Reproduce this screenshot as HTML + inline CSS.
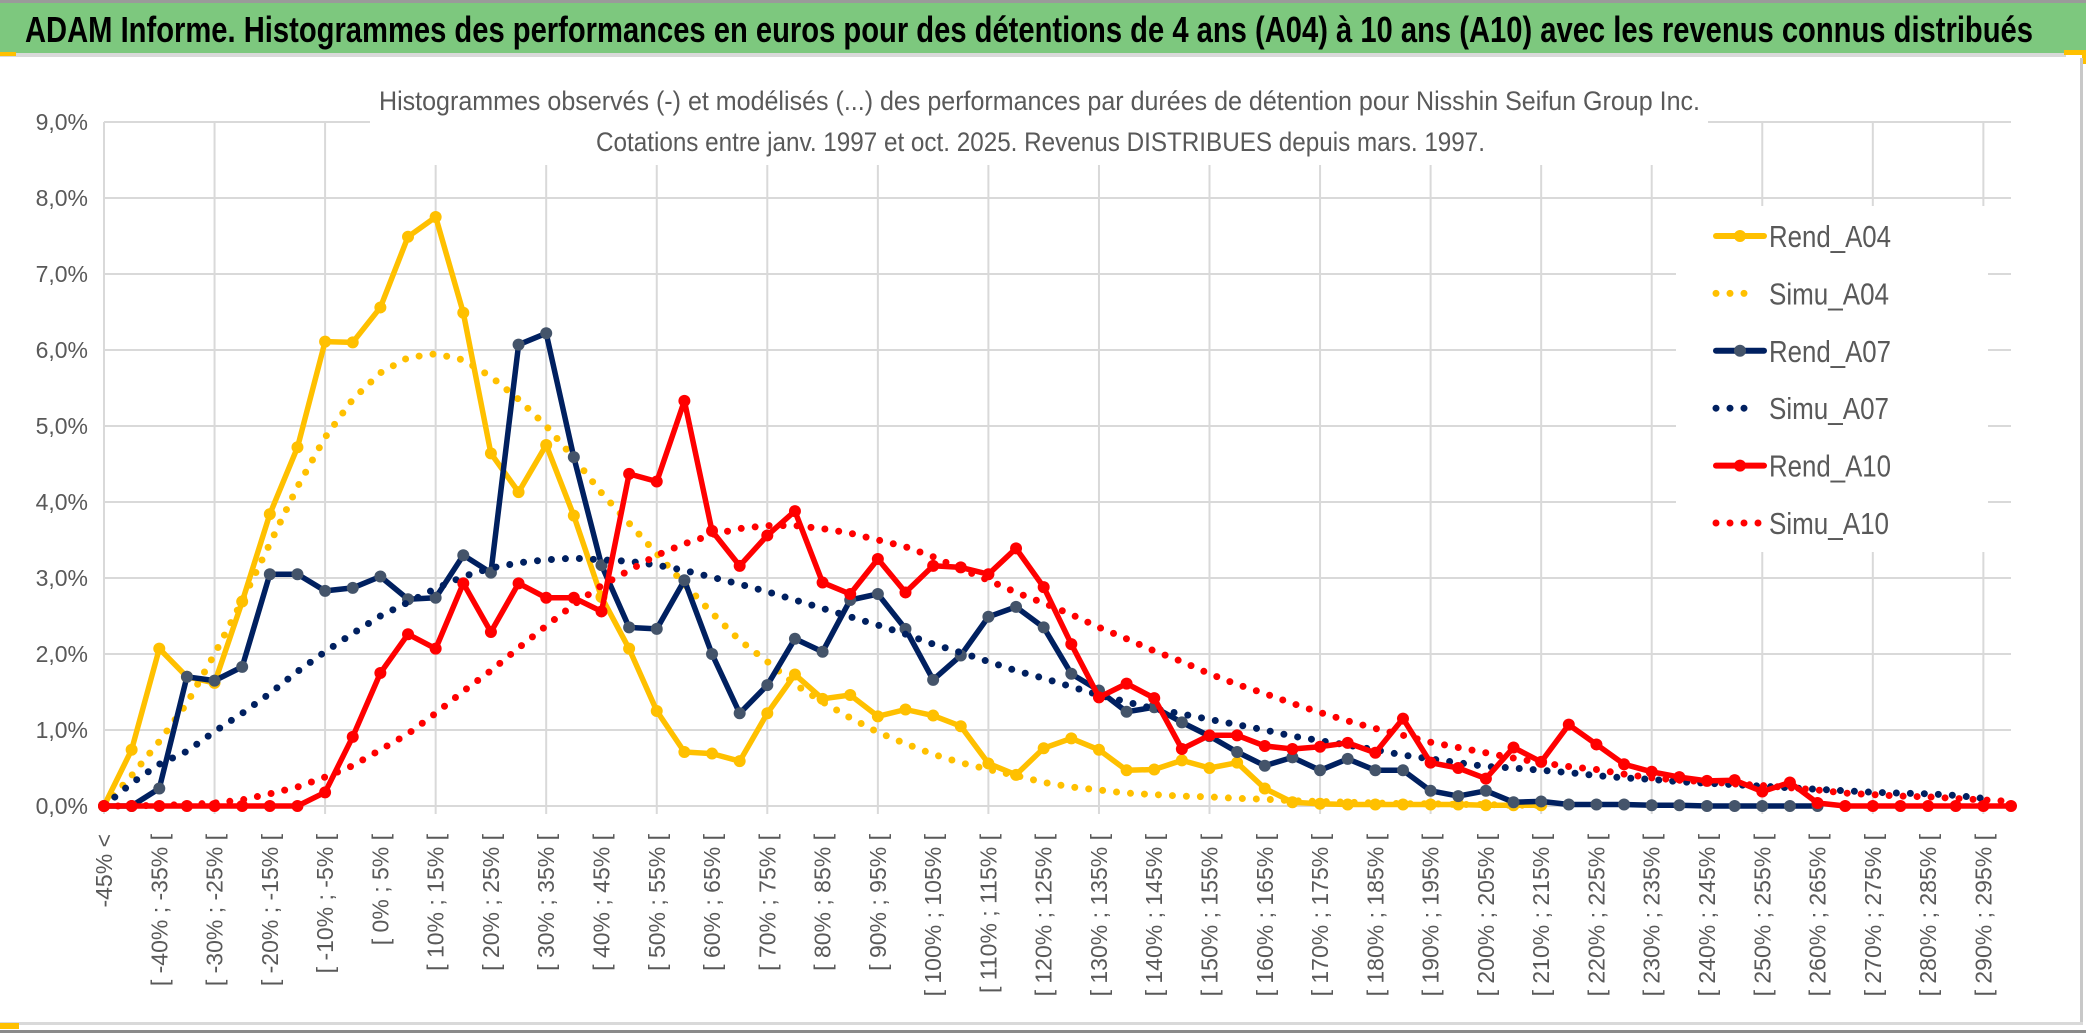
<!DOCTYPE html>
<html>
<head>
<meta charset="utf-8">
<style>
html,body{margin:0;padding:0;background:#fff;}
body{width:2086px;height:1033px;overflow:hidden;}
svg{display:block;}
text{font-family:"Liberation Sans Narrow","Liberation Sans",sans-serif;}
</style>
</head>
<body>
<svg id="chart" width="2086" height="1033" viewBox="0 0 2086 1033" xmlns="http://www.w3.org/2000/svg">
  <rect x="0" y="0" width="2086" height="1033" fill="#ffffff"/>
  <rect x="0" y="0" width="2086" height="3" fill="#9a9a9a"/>
  <rect x="0" y="3" width="2086" height="50" fill="#7dc87e"/>
  <rect x="0" y="53" width="2066" height="4" fill="#d9d9d9"/>
  <rect x="0" y="52" width="16" height="4" fill="#ffc000"/>
  <rect x="2064" y="50" width="22" height="5" fill="#ffc000"/>
  <rect x="2082" y="50" width="4" height="14" fill="#ffc000"/>
  <rect x="2080" y="58" width="3" height="966" fill="#c8c8c8"/>
  <rect x="0" y="1022" width="2083" height="3" fill="#d9d9d9"/>
  <rect x="0" y="1030" width="2086" height="3" fill="#8a8a8a"/>
  <rect x="0" y="1023" width="19" height="6" fill="#ffc000"/>
  <text x="25" y="42" font-size="36" font-weight="bold" fill="#000" textLength="2008" lengthAdjust="spacingAndGlyphs">ADAM Informe. Histogrammes des performances en euros pour des détentions de 4 ans (A04) à 10 ans (A10) avec les revenus connus distribués</text>
  <g id="grid"></g>
  <rect x="370" y="60" width="1338" height="105" fill="#ffffff"/>
  <text x="379" y="110" font-size="27" fill="#595959" textLength="1321" lengthAdjust="spacingAndGlyphs">Histogrammes observés (-) et modélisés (...) des performances par durées de détention pour Nisshin Seifun Group Inc.</text>
  <text x="596" y="151" font-size="27" fill="#595959" textLength="889" lengthAdjust="spacingAndGlyphs">Cotations entre janv. 1997 et oct. 2025. Revenus DISTRIBUES depuis mars. 1997.</text>
  <g id="yaxis"></g>
  <g id="xaxis"></g>
  <g id="series"></g>
  <g id="legend"></g>
</svg>
<script>
var yTicks = [0,1,2,3,4,5,6,7,8,9];
var yTickLabels = ["0,0%","1,0%","2,0%","3,0%","4,0%","5,0%","6,0%","7,0%","8,0%","9,0%"];
var categoryCount = 70;
var categories = (function(){var a=["-45% <"];for(var i=1;i<70;i++){var lo=-45+5*(i-1);a.push("[ "+lo+"% ; "+(lo+5)+"% [");}return a;})();
var rendA04 = [0,0.74,2.07,1.70,1.62,2.69,3.84,4.72,6.11,6.10,6.56,7.49,7.75,6.49,4.64,4.13,4.75,3.82,2.75,2.07,1.25,0.71,0.69,0.59,1.22,1.73,1.41,1.46,1.18,1.27,1.19,1.05,0.56,0.41,0.76,0.89,0.74,0.47,0.48,0.60,0.50,0.57,0.23,0.05,0.03,0.02,0.02,0.02,0.02,0.02,0.01,0.01,0.01];
var simuA04 = [0,0.4,0.85,1.35,2.0,2.7,3.45,4.2,4.85,5.35,5.7,5.9,5.95,5.87,5.65,5.35,5.0,4.58,4.12,3.72,3.32,2.92,2.54,2.18,1.9,1.6,1.37,1.16,0.97,0.82,0.68,0.57,0.48,0.40,0.31,0.25,0.21,0.17,0.15,0.13,0.12,0.10,0.09,0.07,0.06,0.05,0.04,0.03,0.03,0.02,0.02,0.01,0.01];
var rendA07 = [0,0,0.23,1.70,1.65,1.83,3.05,3.05,2.83,2.87,3.02,2.72,2.74,3.30,3.07,6.07,6.22,4.59,3.17,2.35,2.33,2.97,2.0,1.22,1.59,2.2,2.03,2.71,2.79,2.33,1.66,1.98,2.49,2.62,2.35,1.74,1.52,1.24,1.30,1.10,0.92,0.71,0.53,0.64,0.47,0.62,0.47,0.47,0.20,0.13,0.20,0.05,0.06,0.02,0.02,0.02,0.01,0.01,0,0,0,0,0];
var simuA07 = [0,0.3,0.55,0.72,0.98,1.22,1.48,1.77,2.03,2.27,2.5,2.68,2.86,3.02,3.13,3.2,3.24,3.26,3.24,3.22,3.17,3.1,3.01,2.92,2.82,2.71,2.6,2.49,2.38,2.26,2.13,2.02,1.9,1.78,1.68,1.57,1.46,1.37,1.28,1.21,1.14,1.07,1.0,0.92,0.86,0.8,0.74,0.67,0.62,0.57,0.52,0.5,0.47,0.44,0.4,0.37,0.35,0.32,0.3,0.28,0.26,0.24,0.22,0.2,0.18,0.17,0.16,0.14,0.1];
var rendA10 = [0,0,0,0,0,0,0,0,0.18,0.91,1.75,2.26,2.07,2.93,2.29,2.93,2.74,2.74,2.56,4.37,4.27,5.33,3.62,3.16,3.56,3.88,2.94,2.79,3.25,2.81,3.16,3.14,3.05,3.39,2.88,2.13,1.43,1.61,1.42,0.75,0.93,0.93,0.79,0.75,0.78,0.83,0.70,1.15,0.57,0.50,0.36,0.77,0.58,1.07,0.81,0.55,0.45,0.38,0.33,0.34,0.19,0.31,0.04,0,0,0,0,0,0,0];
var simuA10 = [0,0,0.01,0.02,0.04,0.08,0.16,0.25,0.38,0.53,0.74,0.95,1.22,1.51,1.78,2.08,2.37,2.65,2.9,3.1,3.3,3.45,3.57,3.65,3.69,3.69,3.65,3.59,3.5,3.41,3.28,3.12,2.97,2.81,2.67,2.52,2.35,2.2,2.04,1.9,1.74,1.6,1.48,1.35,1.23,1.12,1.02,0.93,0.84,0.77,0.7,0.63,0.57,0.52,0.48,0.42,0.37,0.34,0.32,0.29,0.27,0.24,0.21,0.17,0.15,0.13,0.12,0.1,0.08,0.06];
var seriesNames = ["Rend_A04","Simu_A04","Rend_A07","Simu_A07","Rend_A10","Simu_A10"];

var NS = "http://www.w3.org/2000/svg";
var X0 = 104, X1 = 2011, Y0 = 806, PXPER = 76;
function xScale(i){ return X0 + i*(X1-X0)/(categoryCount-1); }
function yScale(v){ return Y0 - v*PXPER; }
function mk(tag, attrs, parent){ var e=document.createElementNS(NS,tag); for(var k in attrs){ e.setAttribute(k, attrs[k]); } parent.appendChild(e); return e; }

var grid = document.getElementById('grid');
yTicks.forEach(function(t){
  var l = mk('line',{x1:X0,x2:X1,y1:yScale(t),y2:yScale(t),stroke:'#d9d9d9','stroke-width':2},grid);
  
  
});
for (var i=0;i<categoryCount;i+=4){
  var v = mk('line',{x1:xScale(i),x2:xScale(i),y1:yScale(9),y2:Y0+8,stroke:'#d9d9d9','stroke-width':2},grid);
  
  
}

var yaxis = document.getElementById('yaxis');
yTicks.forEach(function(t,k){
  var tx = mk('text',{x:88,y:yScale(t)+8,'text-anchor':'end','font-size':23,fill:'#595959'},yaxis);
  tx.textContent = yTickLabels[k];
  
  
});

var xaxis = document.getElementById('xaxis');
for (var i=0;i<categoryCount;i+=2){
  var cx = xScale(i)+8, cy = 834;
  var tx = mk('text',{x:cx,y:cy,'text-anchor':'end','font-size':23,fill:'#595959',transform:'rotate(-90 '+cx+' '+cy+')'},xaxis);
  tx.textContent = categories[i];
  
  
}

var series = document.getElementById('series');
function pts(arr){ return arr.map(function(v,i){ return xScale(i).toFixed(1)+','+yScale(v).toFixed(1); }).join(' '); }
function solid(arr, color, marker, name){
  var g = mk('g',{},series);
  
  
  var p = mk('polyline',{points:pts(arr),fill:'none',stroke:color,'stroke-width':5.5,'stroke-linejoin':'round','stroke-linecap':'round'},g);
  
  
  arr.forEach(function(v,i){
    var c = mk('circle',{cx:xScale(i),cy:yScale(v),r:6,fill:marker},g);
    
    
  });
}
function dotted(arr, color, name){
  var p = mk('polyline',{points:pts(arr),fill:'none',stroke:color,'stroke-width':7,'stroke-linecap':'round','stroke-dasharray':'0 14'},series);
  
  
}
solid(rendA04,'#ffc000','#ffc000','series-rend-a04');
dotted(simuA04,'#ffc000','series-simu-a04');
solid(rendA07,'#002060','#44546a','series-rend-a07');
dotted(simuA07,'#002060','series-simu-a07');
solid(rendA10,'#ff0000','#ff0000','series-rend-a10');
dotted(simuA10,'#ff0000','series-simu-a10');

var legend = document.getElementById('legend');
var bg = mk('rect',{x:1676,y:206,width:312,height:346,fill:'#ffffff'},legend);


var legColors = ['#ffc000','#ffc000','#002060','#002060','#ff0000','#ff0000'];
var legMarkers = ['#ffc000',null,'#44546a',null,'#ff0000',null];
seriesNames.forEach(function(n,k){
  var y = 236 + k*57.4;
  var g = mk('g',{},legend);
  
  
  if (k%2===0){
    mk('line',{x1:1716,x2:1764,y1:y,y2:y,stroke:legColors[k],'stroke-width':6,'stroke-linecap':'round'},g);
    mk('circle',{cx:1740,cy:y,r:6,fill:legMarkers[k]},g);
  } else {
    mk('line',{x1:1716,x2:(k===5?1764:1758),y1:y,y2:y,stroke:legColors[k],'stroke-width':7,'stroke-linecap':'round','stroke-dasharray':'0 14'},g);
  }
  var t = mk('text',{x:1769,y:y+11,'font-size':31,fill:'#595959',textLength:(n.indexOf('Rend')===0?122:120),lengthAdjust:'spacingAndGlyphs'},g);
  t.textContent = n;
});
</script>
</body>
</html>
